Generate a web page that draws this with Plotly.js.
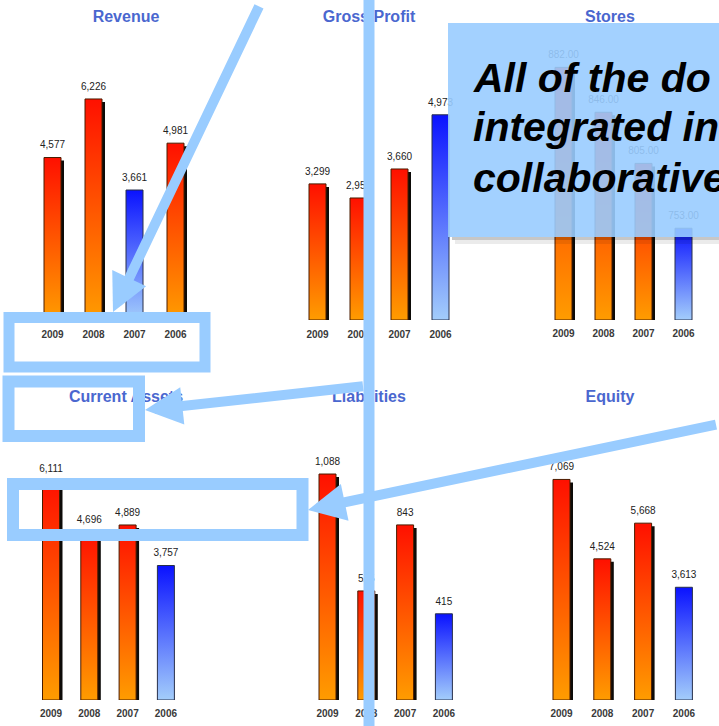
<!DOCTYPE html>
<html>
<head>
<meta charset="utf-8">
<script src="https://cdn.plot.ly/plotly-3.0.1.min.js"></script>
<style>
html,body{margin:0;padding:0;background:#fff;overflow:hidden;}
#chart{width:719px;height:726px;}
</style>
</head>
<body>
<div id="chart"></div>
<script>
// ---------- data ----------
const years = ['2009', '2008', '2007', '2006'];
const titles = ['Revenue', 'Gross Profit', 'Stores', 'Current Assets', 'Liabilities', 'Equity'];
const revenue = [4577, 6226, 3661, 4981];
const grossProfit = [3299, 2957, 3660, 4973];
const stores = [882, 846, 805, 753];
const currentAssets = [6111, 4696, 4889, 3757];
const liabilities = [1088, 525, 843, 415];
const equity = [7069, 4524, 5668, 3613];
const highlightYear = ['2007', '2006', '2006', '2006', '2006', '2006'];
const valueFormats = [',', ',', '.2f', ',', ',', ','];
const calloutLines = ['All of the do', 'integrated in', 'collaborative'];

const panelValues = [revenue, grossProfit, stores, currentAssets, liabilities, equity];

// ---------- geometry (pixels) ----------
const W = 719, H = 726;
const px = x => x / W;
const py = y => 1 - y / H;

const geom = [
  {firstX: 52.5, step: 41,   base: 320, top: 40,  yMin: 0,     pxPerUnit: 0.0355,  titleX: 126, titleY: 17,  tickGap: 7},
  {firstX: 317.5, step: 41,  base: 320, top: 40,  yMin: 0,     pxPerUnit: 0.04126, titleX: 369, titleY: 17,  tickGap: 7},
  {firstX: 563.5, step: 40,  base: 320, top: 40,  yMin: 679.4, pxPerUnit: 1.247,   titleX: 610, titleY: 17,  tickGap: 6},
  {firstX: 51,   step: 38.3, base: 700, top: 430, yMin: 0,     pxPerUnit: 0.0358,  titleX: 126, titleY: 397, tickGap: 6},
  {firstX: 327.5, step: 38.8, base: 700, top: 430, yMin: 0,    pxPerUnit: 0.2077,  titleX: 369, titleY: 397, tickGap: 6},
  {firstX: 561.5, step: 40.8, base: 700, top: 430, yMin: 0,    pxPerUnit: 0.0312,  titleX: 610, titleY: 397, tickGap: 6}
];

const ORANGE_SCALE = [[0, '#ff9c00'], [1, '#ff1000']];
const BLUE_SCALE = [[0, '#a3cdfb'], [1, '#0a12ff']];
const OVERLAY = '#99ccff';

const traces = [];
const layout = {
  width: W, height: H,
  margin: {l: 0, r: 0, t: 0, b: 0},
  paper_bgcolor: '#ffffff', plot_bgcolor: 'rgba(0,0,0,0)',
  showlegend: false,
  font: {family: 'Liberation Sans, Arial, sans-serif'},
  shapes: [], annotations: []
};

panelValues.forEach((vals, p) => {
  const g = geom[p];
  const k = p + 1;
  const sfx = k === 1 ? '' : String(k);
  const xa = 'x' + sfx, ya = 'y' + sfx;
  const hw = 8.5 / g.step;
  const dx = 3 / g.step, dy = 3 / g.pxPerUnit;

  layout['xaxis' + sfx] = {
    domain: [px(g.firstX - g.step / 2), px(g.firstX + 3.5 * g.step)],
    range: [-0.5, 3.5], anchor: ya,
    tickmode: 'array', tickvals: [0, 1, 2, 3], ticktext: years,
    showgrid: false, zeroline: false, showline: false, ticks: '',
    ticklabelstandoff: g.tickGap,
    tickfont: {size: 10, color: '#3a3a3a', family: 'Liberation Sans, Arial, sans-serif', weight: 'bold'},
    fixedrange: true
  };
  layout['yaxis' + sfx] = {
    domain: [py(g.base), py(g.top)],
    range: [g.yMin, g.yMin + (g.base - g.top) / g.pxPerUnit],
    anchor: xa, visible: false, fixedrange: true
  };

  // drop shadows (non-highlighted bars)
  const sx = [], sy = [];
  vals.forEach((v, i) => {
    if (years[i] === highlightYear[p]) return;
    sx.push(i - hw + dx, i - hw + dx, i + hw + dx, i + hw + dx, i - hw + dx, null);
    sy.push(g.yMin, v - dy, v - dy, g.yMin, g.yMin, null);
  });
  traces.push({type: 'scatter', mode: 'lines', x: sx, y: sy, fill: 'toself',
    fillcolor: '#0d0b08', line: {width: 0, color: '#0d0b08'},
    xaxis: xa, yaxis: ya, hoverinfo: 'skip', showlegend: false});

  // gradient bars
  vals.forEach((v, i) => {
    const hi = years[i] === highlightYear[p];
    traces.push({type: 'scatter', mode: 'lines',
      x: [i - hw, i - hw, i + hw, i + hw, i - hw],
      y: [g.yMin, v, v, g.yMin, g.yMin],
      fill: 'toself',
      fillgradient: {type: 'vertical', colorscale: hi ? BLUE_SCALE : ORANGE_SCALE},
      line: {width: 1, color: hi ? '#28304a' : '#4a1c00'},
      xaxis: xa, yaxis: ya, hoverinfo: 'skip', showlegend: false});
  });

  // value labels
  traces.push({type: 'scatter', mode: 'markers+text', x: [0, 1, 2, 3], y: vals,
    marker: {size: 9, opacity: 0},
    texttemplate: '%{y:' + valueFormats[p] + '}', textposition: 'top center',
    textfont: {size: 10, color: '#222222', family: 'Liberation Sans, Arial, sans-serif'},
    cliponaxis: false, xaxis: xa, yaxis: ya, hoverinfo: 'skip', showlegend: false});
});

// full-page overlay axes for the panel titles
layout.xaxis7 = {domain: [0, 1], range: [0, W], anchor: 'y7', visible: false, fixedrange: true};
layout.yaxis7 = {domain: [0, 1], range: [H, 0], anchor: 'x7', visible: false, fixedrange: true};
traces.push({type: 'scatter', mode: 'text',
  x: geom.map(g => g.titleX), y: geom.map(g => g.titleY + 1), text: titles,
  textposition: 'middle center',
  textfont: {size: 16, color: '#4a67cf', family: 'Liberation Sans, Arial, sans-serif', weight: 'bold'},
  cliponaxis: false, xaxis: 'x7', yaxis: 'y7', hoverinfo: 'skip', showlegend: false});

// ---------- overlays ----------
function rect(x0, y0, x1, y1, w) {
  return {type: 'rect', xref: 'paper', yref: 'paper', layer: 'above',
    x0: px(x0), x1: px(x1), y0: py(y0), y1: py(y1),
    line: {color: OVERLAY, width: w}, fillcolor: 'rgba(0,0,0,0)'};
}
layout.shapes.push(rect(9, 317.5, 205, 367, 11));
layout.shapes.push(rect(8.5, 381.5, 139, 436, 12));
layout.shapes.push(rect(13, 484, 302.5, 535, 12));
layout.shapes.push({type: 'line', xref: 'paper', yref: 'paper', layer: 'above',
  x0: px(369), x1: px(369), y0: py(-5), y1: py(731), line: {color: OVERLAY, width: 11}});

// callout with soft shadow
layout.shapes.push({type: 'rect', xref: 'paper', yref: 'paper', layer: 'above',
  x0: px(452), x1: px(730), y0: py(237), y1: py(240), line: {width: 0}, fillcolor: 'rgba(0,0,0,0.22)'});
layout.shapes.push({type: 'rect', xref: 'paper', yref: 'paper', layer: 'above',
  x0: px(455), x1: px(730), y0: py(240), y1: py(244), line: {width: 0}, fillcolor: 'rgba(0,0,0,0.08)'});
layout.shapes.push({type: 'rect', xref: 'paper', yref: 'paper', layer: 'above',
  x0: px(448), x1: px(730), y0: py(23), y1: py(237), line: {width: 0}, fillcolor: 'rgba(153,204,255,0.9)'});

const calloutCenters = [78, 127, 178];
calloutLines.forEach((s, i) => {
  layout.annotations.push({xref: 'paper', yref: 'paper', x: px(471), y: py(calloutCenters[i]),
    xanchor: 'left', yanchor: 'middle', align: 'left', showarrow: false,
    text: '<b><i>' + s + '</i></b>',
    font: {size: 41, color: '#000000', family: 'Liberation Sans, Arial, sans-serif'}});
});

function arrow(tipX, tipY, tailX, tailY) {
  return {xref: 'paper', yref: 'paper', x: px(tipX), y: py(tipY),
    ax: tailX - tipX, ay: tailY - tipY, text: ' ', showarrow: true,
    arrowhead: 2, arrowsize: 0.75, arrowwidth: 10, arrowcolor: OVERLAY, standoff: 0};
}
layout.annotations.push(arrow(113, 312, 262, -10));
layout.annotations.push(arrow(145, 410, 366, 386));
layout.annotations.push(arrow(308, 510, 740, 424));

Plotly.newPlot('chart', traces, layout, {staticPlot: true, displayModeBar: false});
</script>
</body>
</html>
